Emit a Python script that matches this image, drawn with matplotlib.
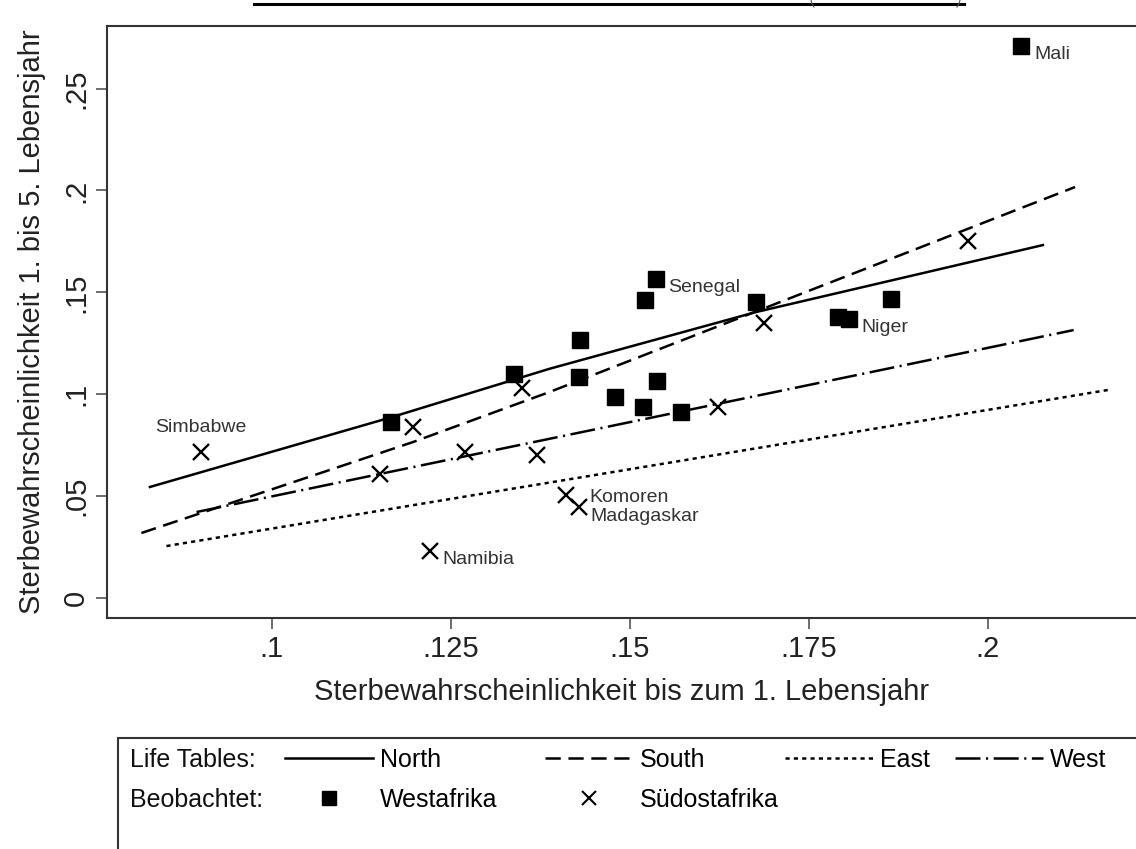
import matplotlib
matplotlib.use("Agg")
import matplotlib.pyplot as plt
from matplotlib.lines import Line2D
from matplotlib.patches import Rectangle

plt.rcParams['font.family'] = ['Liberation Sans', 'DejaVu Sans']
plt.rcParams['lines.scale_dashes'] = False

# Westafrika (observed)
west_q0 = [0.2047, 0.1536, 0.1521, 0.1676, 0.1865, 0.1791, 0.1806, 0.1430,
           0.1339, 0.1429, 0.1538, 0.1480, 0.1518, 0.1571, 0.1166]
west_q14 = [0.2709, 0.1565, 0.1462, 0.1452, 0.1467, 0.1379, 0.1369, 0.1266,
            0.1099, 0.1084, 0.1065, 0.0986, 0.0937, 0.0913, 0.0864]
west_names = ["Mali", "Senegal", "", "", "", "", "Niger", "",
              "", "", "", "", "", "", ""]

# Suedostafrika (observed)
se_q0 = [0.0901, 0.1198, 0.1349, 0.1151, 0.1270, 0.1370, 0.1411, 0.1429,
         0.1221, 0.1623, 0.1687, 0.1972]
se_q14 = [0.0716, 0.0839, 0.1030, 0.0608, 0.0716, 0.0702, 0.0505, 0.0447,
          0.0231, 0.0937, 0.1349, 0.1752]
se_names = ["Simbabwe", "", "", "", "", "", "Komoren", "Madagaskar",
            "Namibia", "", "", ""]

# model life tables
north_x = [0.0830, 0.1168, 0.1388, 0.1676, 0.2077]
north_y = [0.0545, 0.0888, 0.1125, 0.1403, 0.1732]
south_x = [0.0818, 0.1197, 0.1388, 0.2122]
south_y = [0.0319, 0.0765, 0.1011, 0.2017]
east_x = [0.0853, 0.2168]
east_y = [0.0255, 0.1021]
westlt_x = [0.0895, 0.2120]
westlt_y = [0.0422, 0.1315]

xticks = [0.1, 0.125, 0.15, 0.175, 0.2]
xticklabels = ['.1', '.125', '.15', '.175', '.2']
yticks = [0, 0.05, 0.1, 0.15, 0.2, 0.25]
yticklabels = ['0', '.05', '.1', '.15', '.2', '.25']

W, H = 1136, 849
fig = plt.figure(figsize=(W / 100, H / 100), dpi=100)
fig.patch.set_facecolor('white')
ax = fig.add_axes([107 / W, 1 - 618 / H, 1 - 107 / W, (618 - 26) / H])

lw = 1.8
ln_n, = ax.plot(north_x, north_y, color='black', lw=lw, ls='-')
ln_s, = ax.plot(south_x, south_y, color='black', lw=lw, ls=(0, (11, 5.5)))
ln_e, = ax.plot(east_x, east_y, color='black', lw=lw, ls=(0, (3, 3)))
ln_w, = ax.plot(westlt_x, westlt_y, color='black', lw=lw, ls=(0, (18, 4, 1.5, 4)))

sq, = ax.plot(west_q0, west_q14, ls='none', marker='s', ms=12, color='black')
cr, = ax.plot(se_q0, se_q14, ls='none', marker='x', ms=11, mew=1.7, color='black')

# label offsets in points (Stata-style clock positions)
offsets = {"Simbabwe": (0, 18), "Komoren": (17, -1.5), "Madagaskar": (8, -7)}
lab_kw = dict(textcoords='offset points', fontsize=14, color='#333333', va='center')
for x, y, n in zip(west_q0 + se_q0, west_q14 + se_q14, west_names + se_names):
    if not n:
        continue
    off = offsets.get(n, (9, -6))
    ax.annotate(n, (x, y), xytext=off, ha='center' if n == "Simbabwe" else 'left',
                **lab_kw)

ax.set_xlim(0.0770, 0.2207)
ax.set_ylim(-0.0098, 0.2807)
ax.set_xticks(xticks)
ax.set_xticklabels(xticklabels)
ax.set_yticks(yticks)
ax.set_yticklabels(yticklabels, rotation=90, va='center')
ax.tick_params(axis='both', length=8, width=1.2, color='#555555',
               labelsize=21, labelcolor='#222222', pad=4)
for s in ['left', 'bottom', 'top']:
    ax.spines[s].set_linewidth(1.5)
    ax.spines[s].set_color('#333333')
ax.spines['right'].set_visible(False)

ax.set_xlabel('Sterbewahrscheinlichkeit bis zum 1. Lebensjahr', fontsize=21,
              color='#222222', labelpad=11)
ax.set_ylabel('Sterbewahrscheinlichkeit 1. bis 5. Lebensjahr', fontsize=21,
              color='#222222', labelpad=12)

# legend box
fig.add_artist(Rectangle((118 / W, -0.05), 1.0, (849 - 738) / H + 0.05,
                         transform=fig.transFigure, fill=False,
                         lw=1.5, edgecolor='#333333'))
leg_size = 18
fig.text(130 / W, 1 - 760 / H, 'Life Tables:', fontsize=leg_size,
         va='center', ha='left', color='#111111')
fig.text(130 / W, 1 - 800 / H, 'Beobachtet:', fontsize=leg_size,
         va='center', ha='left', color='#111111')
leg_sq = Line2D([], [], ls='none', marker='s', ms=10, color='black')
leg_cr = Line2D([], [], ls='none', marker='x', ms=10, mew=1.5, color='black')
leg_handles = [ln_n, ln_s, ln_e, ln_w, leg_sq, leg_cr]
leg_labels = ['North', 'South', 'East', 'West', 'Westafrika', 'Südostafrika']
leg_x = [285, 545, 785, 955, 285, 545]
leg_y = [760, 760, 760, 760, 800, 800]
for h, lab, lx, ly in zip(leg_handles, leg_labels, leg_x, leg_y):
    fig.legend([h], [lab], loc='center left',
               bbox_to_anchor=(lx / W, 1 - ly / H), frameon=False,
               prop={'size': leg_size}, handlelength=3.5, handletextpad=0.3,
               borderpad=0, borderaxespad=0)

# underline of the cut-off title at the top, with the tips of its brackets
fig.add_artist(Line2D([254 / W, 964 / W], [1 - 4 / H, 1 - 4 / H],
                      transform=fig.transFigure, color='black', lw=2.2))
fig.add_artist(Line2D([811 / W, 812 / W, 814 / W], [1, 1 - 4 / H, 1 - 7 / H],
                      transform=fig.transFigure, color='#555555', lw=0.8))
fig.add_artist(Line2D([960 / W, 959 / W, 957 / W], [1, 1 - 4 / H, 1 - 7 / H],
                      transform=fig.transFigure, color='#555555', lw=0.8))

fig.savefig('out.png', dpi=100, facecolor='white')
